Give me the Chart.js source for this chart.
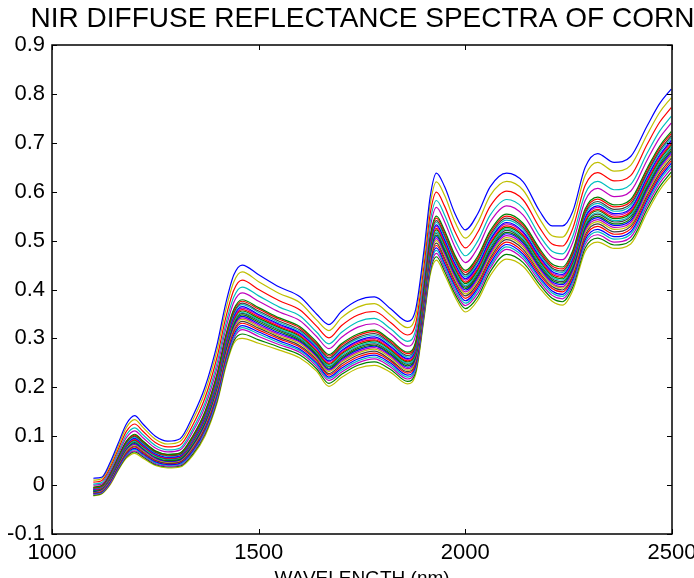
<!DOCTYPE html>
<html>
<head>
<meta charset="utf-8">
<script src="https://cdn.jsdelivr.net/npm/chart.js@4/dist/chart.umd.min.js"></script>
<style>
  html, body { margin: 0; padding: 0; overflow: hidden; background: #fff; }
  canvas { display: block; }
</style>
</head>
<body>
<canvas id="chart" width="720" height="600"></canvas>
<script>
// wavelength grid (nm)
const wavelengths = [1100,1120,1140,1160,1180,1200,1220,1250,1280,1310,1340,1370,1400,1420,1440,1460,1500,1550,1600,1640,1670,1700,1740,1780,1820,1860,1880,1900,1915,1930,1950,1975,2000,2030,2060,2100,2140,2180,2210,2235,2260,2290,2320,2360,2400,2440,2470,2498];

// reflectance of individual samples, top of the bundle to bottom
const sample01 = [.014,.016,.045,.085,.125,.142,.125,.100,.090,.095,.140,.200,.290,.370,.430,.450,.430,.405,.385,.350,.328,.355,.378,.385,.360,.335,.360,.480,.590,.638,.610,.555,.522,.555,.610,.638,.620,.560,.530,.530,.560,.650,.678,.660,.672,.735,.780,.810];
const sample02 = [.010,.013,.040,.079,.118,.134,.118,.094,.084,.089,.132,.190,.278,.357,.416,.436,.416,.392,.373,.338,.316,.342,.364,.371,.347,.322,.347,.466,.574,.620,.592,.538,.505,.537,.592,.621,.603,.544,.510,.507,.544,.633,.660,.642,.654,.717,.762,.792];
const sample03 = [.006,.009,.035,.073,.110,.125,.110,.087,.078,.082,.122,.178,.264,.341,.399,.419,.400,.377,.358,.325,.301,.326,.348,.355,.332,.307,.331,.449,.555,.599,.570,.518,.485,.517,.570,.601,.583,.526,.493,.489,.525,.613,.639,.622,.633,.697,.742,.772];
const sample04 = [.002,.005,.031,.067,.103,.117,.103,.081,.072,.076,.114,.168,.252,.328,.385,.405,.387,.364,.346,.313,.289,.312,.334,.341,.319,.294,.318,.435,.539,.582,.552,.501,.469,.499,.552,.584,.566,.510,.478,.473,.509,.596,.621,.604,.615,.679,.724,.754];
const sample05 = [.000,.002,.027,.063,.097,.111,.097,.076,.068,.072,.108,.160,.242,.318,.374,.393,.376,.354,.336,.304,.279,.302,.323,.330,.309,.284,.307,.424,.526,.568,.538,.487,.455,.485,.538,.571,.552,.498,.466,.461,.496,.582,.607,.590,.601,.665,.710,.740];
const sample06 = [-.004,-.001,.023,.058,.090,.104,.090,.070,.063,.066,.100,.150,.230,.305,.360,.379,.363,.342,.324,.293,.267,.289,.309,.317,.296,.272,.294,.410,.510,.550,.520,.470,.439,.468,.520,.554,.535,.483,.452,.446,.480,.565,.589,.573,.584,.648,.693,.723];
const sample07 = [-.005,-.002,.022,.057,.089,.102,.089,.069,.062,.065,.098,.148,.227,.302,.357,.376,.360,.339,.321,.290,.264,.286,.306,.314,.293,.269,.291,.407,.506,.546,.516,.466,.435,.464,.516,.550,.531,.479,.448,.442,.476,.561,.585,.569,.580,.644,.689,.719];
const sample08 = [-.006,-.003,.020,.055,.087,.100,.087,.067,.060,.063,.096,.145,.224,.299,.353,.372,.356,.335,.317,.287,.260,.282,.302,.310,.290,.265,.287,.403,.502,.541,.511,.462,.430,.459,.511,.546,.527,.475,.444,.438,.472,.557,.580,.564,.575,.639,.684,.714];
const sample09 = [-.007,-.004,.019,.054,.085,.098,.085,.066,.059,.062,.094,.143,.221,.296,.350,.369,.353,.332,.314,.284,.257,.279,.299,.307,.287,.262,.284,.400,.498,.537,.507,.458,.426,.455,.507,.542,.523,.471,.441,.435,.468,.553,.576,.560,.571,.635,.680,.710];
const sample10 = [-.008,-.004,.018,.052,.083,.096,.083,.064,.057,.060,.092,.140,.218,.292,.346,.365,.349,.329,.311,.281,.254,.275,.295,.303,.283,.259,.281,.396,.494,.532,.502,.453,.422,.450,.502,.537,.518,.467,.437,.431,.464,.548,.571,.555,.566,.630,.675,.705];
const sample11 = [-.009,-.005,.017,.051,.082,.095,.082,.063,.056,.059,.091,.138,.216,.290,.343,.362,.347,.327,.309,.279,.252,.273,.293,.300,.281,.257,.279,.393,.491,.529,.499,.450,.419,.447,.499,.534,.515,.464,.434,.428,.461,.545,.568,.552,.563,.627,.672,.702];
const sample12 = [-.009,-.006,.016,.050,.080,.093,.080,.062,.055,.058,.089,.136,.213,.287,.340,.359,.344,.324,.306,.276,.249,.270,.290,.297,.278,.254,.276,.390,.488,.525,.495,.446,.415,.443,.495,.530,.511,.461,.431,.425,.458,.541,.564,.548,.559,.623,.668,.698];
const sample13 = [-.010,-.007,.015,.049,.079,.092,.079,.061,.054,.057,.088,.134,.211,.285,.338,.356,.341,.322,.304,.274,.247,.268,.287,.295,.276,.252,.273,.388,.485,.522,.492,.443,.412,.440,.492,.527,.508,.458,.428,.422,.455,.538,.561,.545,.556,.620,.665,.695];
const sample14 = [-.010,-.007,.014,.048,.077,.090,.077,.059,.053,.056,.086,.132,.208,.282,.335,.353,.338,.319,.301,.272,.244,.265,.284,.292,.273,.249,.270,.385,.481,.518,.488,.439,.408,.436,.488,.524,.504,.455,.425,.419,.451,.534,.557,.541,.552,.616,.661,.691];
const sample15 = [-.011,-.008,.014,.047,.076,.089,.076,.058,.052,.055,.084,.130,.206,.279,.332,.351,.336,.317,.299,.270,.242,.262,.282,.289,.271,.247,.268,.382,.478,.515,.484,.436,.405,.433,.484,.521,.501,.452,.422,.416,.448,.531,.554,.538,.549,.613,.658,.688];
const sample16 = [-.012,-.008,.013,.045,.075,.087,.075,.057,.050,.053,.082,.128,.204,.276,.329,.348,.333,.314,.296,.267,.239,.259,.279,.286,.268,.244,.265,.379,.475,.511,.480,.433,.402,.429,.480,.517,.498,.448,.419,.413,.445,.528,.550,.534,.545,.609,.654,.684];
const sample17 = [-.013,-.009,.012,.044,.074,.085,.074,.056,.049,.052,.081,.126,.202,.274,.327,.345,.330,.311,.294,.265,.237,.257,.276,.284,.266,.241,.263,.377,.472,.508,.477,.430,.399,.426,.477,.514,.495,.445,.416,.410,.442,.525,.547,.531,.541,.606,.651,.681];
const sample18 = [-.013,-.010,.011,.043,.072,.083,.072,.054,.048,.051,.079,.124,.199,.271,.324,.342,.327,.308,.292,.263,.235,.254,.273,.281,.263,.238,.260,.374,.468,.504,.473,.426,.395,.422,.473,.510,.491,.442,.413,.406,.438,.521,.543,.527,.537,.602,.647,.677];
const sample19 = [-.014,-.011,.010,.042,.070,.082,.070,.053,.047,.050,.077,.122,.196,.268,.321,.339,.324,.305,.289,.260,.232,.251,.270,.278,.260,.235,.257,.371,.464,.500,.469,.422,.391,.418,.469,.506,.487,.438,.410,.403,.434,.517,.539,.523,.533,.598,.643,.673];
const sample20 = [-.015,-.012,.009,.040,.068,.080,.068,.051,.045,.048,.075,.119,.193,.265,.317,.335,.321,.302,.285,.257,.228,.247,.266,.274,.256,.232,.253,.367,.460,.495,.464,.417,.387,.413,.464,.502,.482,.434,.406,.399,.430,.512,.534,.518,.529,.593,.638,.668];
const sample21 = [-.016,-.013,.008,.039,.066,.078,.066,.050,.044,.047,.073,.116,.190,.261,.313,.331,.317,.299,.282,.254,.225,.243,.262,.270,.253,.229,.249,.363,.456,.490,.459,.412,.382,.408,.459,.497,.477,.430,.402,.395,.426,.507,.529,.513,.524,.588,.633,.663];
const sample22 = [-.017,-.014,.006,.037,.064,.075,.064,.048,.042,.045,.070,.113,.186,.257,.308,.326,.313,.295,.278,.250,.221,.239,.258,.266,.249,.225,.245,.358,.451,.485,.453,.407,.377,.403,.453,.492,.472,.425,.397,.390,.421,.502,.523,.508,.518,.583,.628,.658];
const sample23 = [-.018,-.015,.005,.036,.062,.073,.062,.046,.041,.043,.068,.110,.182,.253,.304,.322,.309,.291,.275,.247,.218,.235,.254,.262,.245,.221,.241,.354,.446,.480,.448,.402,.372,.398,.448,.487,.467,.421,.393,.386,.416,.497,.518,.503,.513,.578,.623,.653];
const sample24 = [-.019,-.016,.003,.034,.060,.070,.060,.044,.039,.041,.066,.107,.178,.249,.300,.318,.304,.287,.271,.243,.214,.231,.250,.258,.241,.217,.237,.350,.441,.474,.443,.397,.367,.392,.443,.482,.462,.416,.388,.381,.411,.492,.512,.497,.507,.572,.617,.647];
const sample25 = [-.021,-.017,.002,.032,.058,.068,.058,.042,.037,.039,.063,.104,.174,.245,.295,.309,.297,.282,.266,.238,.208,.226,.245,.252,.236,.212,.232,.345,.436,.467,.437,.391,.361,.385,.436,.472,.455,.410,.382,.375,.405,.485,.505,.491,.500,.565,.610,.640];
const sample26 = [-.022,-.018,.000,.030,.055,.065,.055,.040,.035,.037,.060,.100,.170,.240,.290,.300,.290,.276,.260,.233,.202,.220,.239,.245,.230,.207,.227,.340,.430,.460,.430,.385,.354,.378,.428,.462,.447,.403,.376,.368,.398,.478,.497,.484,.493,.558,.603,.633];

const samples = [sample01, sample02, sample03, sample04, sample05, sample06, sample07, sample08, sample09,
                 sample10, sample11, sample12, sample13, sample14, sample15, sample16, sample17, sample18,
                 sample19, sample20, sample21, sample22, sample23, sample24, sample25, sample26];

const xTicks = [1000, 1500, 2000, 2500];
const yTicks = [-0.1, 0, 0.1, 0.2, 0.3, 0.4, 0.5, 0.6, 0.7, 0.8, 0.9];

// matlab line colours
const lineColors = ['#0000ff', '#bfbf00', '#ff0000', '#00bfbf', '#bf00bf', '#008000', '#ff0000', '#404040', '#00bfbf',
                    '#0000ff', '#bf00bf', '#ff0000', '#008000', '#00bfbf', '#404040', '#008000', '#0000ff', '#bf00bf',
                    '#bfbf00', '#404040', '#ff0000', '#0000ff', '#00bfbf', '#bf00bf', '#008000', '#bfbf00'];

const FONT = "'Liberation Sans', Arial, Helvetica, sans-serif";

// box around the axes + inward tick marks, like matlab
const boxPlugin = {
  id: 'box',
  afterDraw(chart) {
    const { ctx, chartArea: a, scales } = chart;
    const len = 5;
    ctx.save();
    ctx.strokeStyle = '#000';
    ctx.lineWidth = 1.5;
    ctx.strokeRect(a.left, a.top, a.right - a.left, a.bottom - a.top);
    ctx.lineWidth = 1;
    ctx.beginPath();
    xTicks.forEach(v => {
      const px = Math.round(scales.x.getPixelForValue(v)) + 0.5;
      ctx.moveTo(px, a.bottom); ctx.lineTo(px, a.bottom - len);
      ctx.moveTo(px, a.top); ctx.lineTo(px, a.top + len);
    });
    yTicks.forEach(v => {
      const py = Math.round(scales.y.getPixelForValue(v)) + 0.5;
      ctx.moveTo(a.left, py); ctx.lineTo(a.left + len, py);
      ctx.moveTo(a.right, py); ctx.lineTo(a.right - len, py);
    });
    ctx.stroke();
    ctx.restore();
  }
};

const datasets = samples.map((s, i) => ({
  data: s.map((v, j) => ({ x: wavelengths[j], y: v })),
  borderColor: lineColors[i],
  borderWidth: 1.2,
  pointRadius: 0,
  fill: false,
  cubicInterpolationMode: 'monotone'
}));

new Chart(document.getElementById('chart').getContext('2d'), {
  type: 'line',
  data: { datasets },
  options: {
    responsive: false,
    animation: false,
    layout: { padding: { left: 5, right: 0, top: 0, bottom: 0 } },
    plugins: {
      legend: { display: false },
      tooltip: { enabled: false },
      title: {
        display: true,
        text: 'NIR DIFFUSE REFLECTANCE SPECTRA OF CORN',
        color: '#000',
        font: { family: FONT, size: 28, weight: 'normal', lineHeight: 1.2 },
        padding: { top: 2.2, bottom: 9.2 }
      }
    },
    scales: {
      x: {
        type: 'linear',
        min: 1000,
        max: 2500,
        afterBuildTicks: s => { s.ticks = xTicks.map(v => ({ value: v })); },
        afterFit: s => { s.height = 66; },
        grid: { display: false, drawTicks: false },
        border: { display: false },
        ticks: {
          color: '#000',
          padding: 6,
          maxRotation: 0,
          font: { family: FONT, size: 22 },
          callback: v => String(v)
        },
        title: {
          display: true,
          text: 'WAVELENGTH (nm)',
          color: '#000',
          font: { family: FONT, size: 19 },
          padding: { top: 0, bottom: 10 }
        }
      },
      y: {
        type: 'linear',
        min: -0.1,
        max: 0.9,
        afterBuildTicks: s => { s.ticks = yTicks.map(v => ({ value: v })); },
        afterFit: s => { s.width = 47; },
        grid: { display: false, drawTicks: false },
        border: { display: false },
        ticks: {
          color: '#000',
          padding: 7,
          font: { family: FONT, size: 22 },
          callback: v => String(Math.round(v * 10) / 10)
        }
      },
      // empty right margin so the plot box ends where the reference does
      yRight: {
        type: 'linear',
        position: 'right',
        min: 0,
        max: 1,
        afterFit: s => { s.width = 48; },
        grid: { display: false, drawTicks: false },
        border: { display: false },
        ticks: { display: false }
      }
    }
  },
  plugins: [boxPlugin]
});
</script>
</body>
</html>
